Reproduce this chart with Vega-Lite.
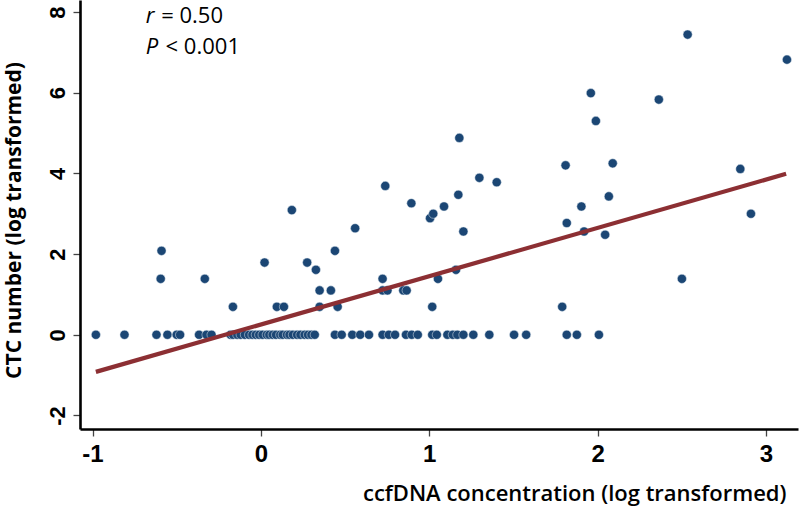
{
  "$schema": "https://vega.github.io/schema/vega-lite/v6.json",
  "width": 718,
  "height": 429,
  "autosize": {"type": "none"},
  "padding": {"left": 80, "top": 0, "right": 2, "bottom": 78},
  "background": "white",
  "config": {"view": {"stroke": null}},
  "datasets": {
    "points": [
      {"x": -0.98, "y": 0}, {"x": -0.81, "y": 0}, {"x": -0.62, "y": 0}, {"x": -0.555, "y": 0},
      {"x": -0.50, "y": 0}, {"x": -0.48, "y": 0}, {"x": -0.367, "y": 0}, {"x": -0.323, "y": 0},
      {"x": -0.293, "y": 0}, {"x": -0.18, "y": 0}, {"x": -0.165, "y": 0}, {"x": -0.14, "y": 0},
      {"x": -0.12, "y": 0}, {"x": -0.095, "y": 0}, {"x": -0.07, "y": 0}, {"x": -0.05, "y": 0},
      {"x": -0.03, "y": 0}, {"x": -0.01, "y": 0}, {"x": 0.01, "y": 0}, {"x": 0.035, "y": 0},
      {"x": 0.05, "y": 0}, {"x": 0.07, "y": 0}, {"x": 0.09, "y": 0}, {"x": 0.115, "y": 0},
      {"x": 0.13, "y": 0}, {"x": 0.155, "y": 0}, {"x": 0.17, "y": 0}, {"x": 0.19, "y": 0},
      {"x": 0.215, "y": 0}, {"x": 0.235, "y": 0}, {"x": 0.26, "y": 0}, {"x": 0.28, "y": 0},
      {"x": 0.30, "y": 0}, {"x": 0.32, "y": 0}, {"x": 0.44, "y": 0}, {"x": 0.48, "y": 0},
      {"x": 0.543, "y": 0}, {"x": 0.59, "y": 0}, {"x": 0.642, "y": 0}, {"x": 0.723, "y": 0},
      {"x": 0.76, "y": 0}, {"x": 0.797, "y": 0}, {"x": 0.862, "y": 0}, {"x": 0.896, "y": 0},
      {"x": 0.932, "y": 0}, {"x": 1.018, "y": 0}, {"x": 1.045, "y": 0}, {"x": 1.108, "y": 0},
      {"x": 1.14, "y": 0}, {"x": 1.167, "y": 0}, {"x": 1.203, "y": 0}, {"x": 1.262, "y": 0},
      {"x": 1.357, "y": 0}, {"x": 1.504, "y": 0}, {"x": 1.576, "y": 0}, {"x": 1.817, "y": 0},
      {"x": 1.877, "y": 0}, {"x": 2.008, "y": 0},
      {"x": -0.59, "y": 2.08}, {"x": -0.595, "y": 1.386}, {"x": -0.333, "y": 1.386},
      {"x": -0.166, "y": 0.693}, {"x": 0.022, "y": 1.79}, {"x": 0.095, "y": 0.693},
      {"x": 0.137, "y": 0.693}, {"x": 0.184, "y": 3.09}, {"x": 0.275, "y": 1.79},
      {"x": 0.327, "y": 1.61}, {"x": 0.349, "y": 1.099}, {"x": 0.416, "y": 1.099},
      {"x": 0.349, "y": 0.693}, {"x": 0.456, "y": 0.693}, {"x": 0.44, "y": 2.08},
      {"x": 0.56, "y": 2.64}, {"x": 0.739, "y": 3.69}, {"x": 0.894, "y": 3.26},
      {"x": 1.005, "y": 2.89}, {"x": 1.024, "y": 3.0}, {"x": 1.088, "y": 3.18},
      {"x": 1.173, "y": 3.47}, {"x": 1.179, "y": 4.88}, {"x": 1.298, "y": 3.89},
      {"x": 1.401, "y": 3.78}, {"x": 1.81, "y": 4.2}, {"x": 1.96, "y": 5.99},
      {"x": 1.99, "y": 5.3}, {"x": 2.09, "y": 4.25}, {"x": 2.067, "y": 3.43},
      {"x": 1.904, "y": 3.18}, {"x": 1.817, "y": 2.77}, {"x": 1.203, "y": 2.56},
      {"x": 0.723, "y": 1.386}, {"x": 0.723, "y": 1.099}, {"x": 0.752, "y": 1.099},
      {"x": 0.846, "y": 1.099}, {"x": 0.866, "y": 1.099}, {"x": 1.052, "y": 1.386},
      {"x": 1.159, "y": 1.61}, {"x": 1.018, "y": 0.693}, {"x": 1.79, "y": 0.693},
      {"x": 1.92, "y": 2.56}, {"x": 2.045, "y": 2.48}, {"x": 2.535, "y": 7.44},
      {"x": 3.125, "y": 6.82}, {"x": 2.364, "y": 5.83}, {"x": 2.848, "y": 4.11},
      {"x": 2.911, "y": 3.0}, {"x": 2.501, "y": 1.386}
    ],
    "fit": [{"x": -0.98, "y": -0.92}, {"x": 3.12, "y": 3.99}],
    "italic": [{"x": -0.684, "y": 7.74, "label": "r"}, {"x": -0.684, "y": 6.95, "label": "P"}],
    "plain": [{"x": -0.592, "y": 7.74, "label": "= 0.50"}, {"x": -0.566, "y": 6.95, "label": "< 0.001"}]
  },
  "encoding": {
    "x": {
      "field": "x", "type": "quantitative",
      "scale": {"domain": [-1.0743, 3.1906], "nice": false, "zero": false},
      "axis": {
        "values": [-1, 0, 1, 2, 3],
        "labelExpr": "datum.value < 0 ? '-' + abs(datum.value) : '' + datum.value",
        "title": "ccfDNA concentration (log transformed)",
        "grid": false,
        "domainColor": "black", "domainWidth": 2.6,
        "tickColor": "#444", "tickWidth": 1.3, "tickSize": 7,
        "labelFont": "Liberation Sans Narrow, Liberation Sans, sans-serif",
        "labelFontWeight": "bold", "labelFontSize": 24, "labelColor": "black",
        "labelPadding": 6,
        "titleFont": "Open Sans", "titleFontWeight": 600, "titleFontSize": 22, "titleColor": "black",
        "titleX": 706, "titleY": 64, "titleAlign": "right", "titleBaseline": "middle", "titleAnchor": null
      }
    },
    "y": {
      "field": "y", "type": "quantitative",
      "scale": {"domain": [-2.336, 8.298], "nice": false, "zero": false},
      "axis": {
        "values": [-2, 0, 2, 4, 6, 8],
        "labelExpr": "datum.value < 0 ? '-' + abs(datum.value) : '' + datum.value",
        "title": "CTC number (log transformed)",
        "grid": false,
        "domainColor": "black", "domainWidth": 2.6,
        "tickColor": "#444", "tickWidth": 1.3, "tickSize": 7,
        "labelFont": "Liberation Sans Narrow, Liberation Sans, sans-serif",
        "labelFontWeight": "bold", "labelFontSize": 22, "labelColor": "black",
        "labelAngle": -90, "labelAlign": "center", "labelBaseline": "bottom", "labelPadding": 4,
        "titleFont": "Open Sans", "titleFontWeight": "bold", "titleFontSize": 21, "titleColor": "black",
        "titleX": -66, "titleY": 220, "titleAlign": "center", "titleBaseline": "middle", "titleAngle": -90
      }
    }
  },
  "layer": [
    {
      "data": {"name": "points"},
      "mark": {"type": "circle", "size": 84, "color": "#1b4674", "opacity": 1, "stroke": "#e4ecf3", "strokeWidth": 0.5}
    },
    {
      "data": {"name": "fit"},
      "mark": {"type": "line", "color": "#8c2f33", "strokeWidth": 4.2}
    },
    {
      "data": {"name": "italic"},
      "mark": {"type": "text", "align": "left", "baseline": "alphabetic", "font": "Open Sans", "fontStyle": "italic", "fontSize": 22, "color": "black"},
      "encoding": {"text": {"field": "label"}}
    },
    {
      "data": {"name": "plain"},
      "mark": {"type": "text", "align": "left", "baseline": "alphabetic", "font": "Open Sans", "fontSize": 22, "color": "black"},
      "encoding": {"text": {"field": "label"}}
    }
  ]
}
